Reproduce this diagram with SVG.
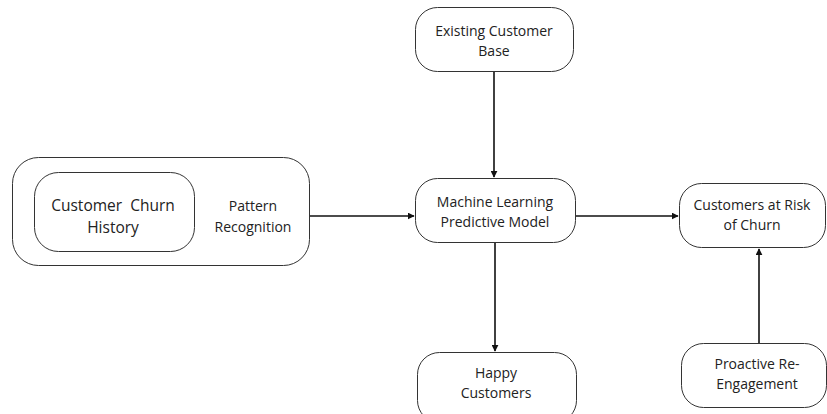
<svg xmlns="http://www.w3.org/2000/svg" width="827" height="414" viewBox="0 0 827 414">
  <defs>
    <marker id="arrow" viewBox="0 0 10 10" refX="9" refY="5" markerWidth="7" markerHeight="7" markerUnits="userSpaceOnUse" orient="auto">
      <path d="M0,0 L10,5 L0,10 z" fill="#111"/>
    </marker>
    <style>
      .box { fill: #ffffff; stroke: #333333; stroke-width: 1; }
      .label { font-family: "Open Sans", "Liberation Sans", sans-serif; font-size: 14px; fill: #222222; text-anchor: middle; }
      .big { font-size: 15.5px; }
      .link { stroke: #111111; stroke-width: 1.6; fill: none; marker-end: url(#arrow); }
    </style>
  </defs>
  <rect width="827" height="414" fill="#ffffff"/>

  <g id="connectors">
    <line class="link" x1="494" y1="72" x2="494" y2="177"/>
    <line class="link" x1="310" y1="216" x2="414" y2="216"/>
    <line class="link" x1="575" y1="216" x2="678" y2="216"/>
    <line class="link" x1="495" y1="243" x2="495" y2="351"/>
    <line class="link" x1="759" y1="343" x2="759" y2="249"/>
  </g>

  <g id="pattern-recognition">
    <rect class="box" x="12.5" y="157.5" width="297" height="108" rx="26"/>
    <text class="label" x="253" y="211">Pattern</text>
    <text class="label" x="253" y="232">Recognition</text>
  </g>

  <g id="churn-history">
    <rect class="box" x="34.5" y="172.5" width="160" height="79" rx="24"/>
    <text class="label big" x="113" y="211" xml:space="preserve">Customer  Churn</text>
    <text class="label big" x="113" y="233">History</text>
  </g>

  <g id="existing-customer-base">
    <rect class="box" x="415.5" y="7.5" width="158" height="64" rx="22"/>
    <text class="label" x="494" y="36">Existing Customer</text>
    <text class="label" x="494" y="56">Base</text>
  </g>

  <g id="ml-model">
    <rect class="box" x="415.5" y="178.5" width="160" height="64" rx="22"/>
    <text class="label" x="495" y="207">Machine Learning</text>
    <text class="label" x="495" y="227">Predictive Model</text>
  </g>

  <g id="at-risk">
    <rect class="box" x="679.5" y="183.5" width="146" height="64" rx="22"/>
    <text class="label" x="752" y="210">Customers at Risk</text>
    <text class="label" x="752" y="230">of Churn</text>
  </g>

  <g id="happy-customers">
    <rect class="box" x="417.5" y="352.5" width="159" height="70" rx="22"/>
    <text class="label" x="496" y="378">Happy</text>
    <text class="label" x="496" y="398">Customers</text>
  </g>

  <g id="re-engagement">
    <rect class="box" x="681.5" y="343.5" width="145" height="64" rx="22"/>
    <text class="label" x="757" y="369">Proactive Re-</text>
    <text class="label" x="757" y="389">Engagement</text>
  </g>
</svg>
